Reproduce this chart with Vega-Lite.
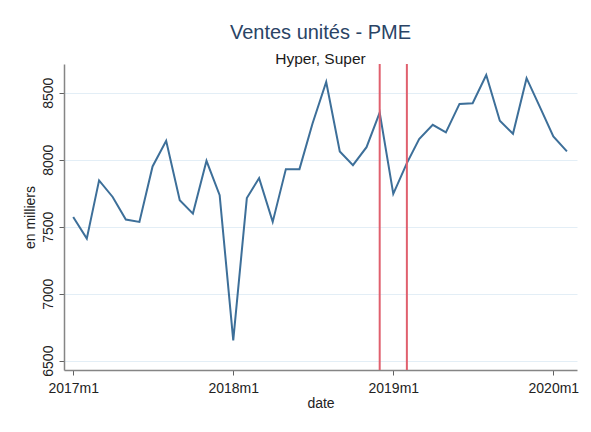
{
  "$schema": "https://vega.github.io/schema/vega-lite/v6.json",
  "width": 513,
  "height": 306,
  "autosize": {"type": "none"},
  "padding": {"left": 64, "top": 64, "right": 14, "bottom": 62},
  "background": "white",
  "config": {"font": "Liberation Sans", "view": {"stroke": null}},
  "title": {
    "text": "Ventes unités - PME",
    "subtitle": "Hyper, Super",
    "fontSize": 20,
    "fontWeight": "normal",
    "color": "#2a4466",
    "subtitleFontSize": 15.5,
    "subtitleColor": "#1a1a1a",
    "anchor": "middle",
    "frame": "group",
    "offset": -4,
    "subtitlePadding": 9
  },
  "layer": [
    {
      "data": {
        "values": [
          {"date": "2017-01-01", "ventes": 7573},
          {"date": "2017-02-01", "ventes": 7411},
          {"date": "2017-03-01", "ventes": 7846},
          {"date": "2017-04-01", "ventes": 7722},
          {"date": "2017-05-01", "ventes": 7553},
          {"date": "2017-06-01", "ventes": 7536},
          {"date": "2017-07-01", "ventes": 7950},
          {"date": "2017-08-01", "ventes": 8142},
          {"date": "2017-09-01", "ventes": 7697},
          {"date": "2017-10-01", "ventes": 7598},
          {"date": "2017-11-01", "ventes": 7992},
          {"date": "2017-12-01", "ventes": 7735},
          {"date": "2018-01-01", "ventes": 6651},
          {"date": "2018-02-01", "ventes": 7714},
          {"date": "2018-03-01", "ventes": 7863},
          {"date": "2018-04-01", "ventes": 7536},
          {"date": "2018-05-01", "ventes": 7930},
          {"date": "2018-06-01", "ventes": 7930},
          {"date": "2018-07-01", "ventes": 8273},
          {"date": "2018-08-01", "ventes": 8581},
          {"date": "2018-09-01", "ventes": 8062},
          {"date": "2018-10-01", "ventes": 7960},
          {"date": "2018-11-01", "ventes": 8094},
          {"date": "2018-12-01", "ventes": 8352},
          {"date": "2019-01-01", "ventes": 7745},
          {"date": "2019-02-01", "ventes": 7975},
          {"date": "2019-03-01", "ventes": 8155},
          {"date": "2019-04-01", "ventes": 8261},
          {"date": "2019-05-01", "ventes": 8204},
          {"date": "2019-06-01", "ventes": 8417},
          {"date": "2019-07-01", "ventes": 8422},
          {"date": "2019-08-01", "ventes": 8633},
          {"date": "2019-09-01", "ventes": 8291},
          {"date": "2019-10-01", "ventes": 8194},
          {"date": "2019-11-01", "ventes": 8609},
          {"date": "2019-12-01", "ventes": 8397},
          {"date": "2020-01-01", "ventes": 8174},
          {"date": "2020-02-01", "ventes": 8062}
        ]
      },
      "mark": {"type": "line", "color": "#3d6f99", "strokeWidth": 2},
      "encoding": {
        "x": {
          "field": "date",
          "type": "temporal",
          "scale": {
            "type": "utc",
            "domain": [
              {"year": 2016, "month": 12, "date": 11, "utc": true},
              {"year": 2020, "month": 2, "date": 24, "utc": true}
            ]
          },
          "axis": {
            "title": "date",
            "values": [
              {"year": 2017, "month": 1, "date": 1, "utc": true},
              {"year": 2018, "month": 1, "date": 1, "utc": true},
              {"year": 2019, "month": 1, "date": 1, "utc": true},
              {"year": 2020, "month": 1, "date": 1, "utc": true}
            ],
            "labelExpr": "utcyear(datum.value) + 'm' + (utcmonth(datum.value) + 1)",
            "grid": false,
            "domainColor": "#858585",
            "domainWidth": 1.5,
            "tickColor": "#606060",
            "tickSize": 5,
            "labelFontSize": 14,
            "labelColor": "#222222",
            "labelPadding": 6,
            "labelFlush": false,
            "labelOverlap": false,
            "titleFontSize": 14,
            "titleFontWeight": "normal",
            "titleColor": "#222222",
            "titleY": 37,
            "titleBaseline": "alphabetic"
          }
        },
        "y": {
          "field": "ventes",
          "type": "quantitative",
          "scale": {"domain": [6430, 8715], "nice": false, "zero": false},
          "axis": {
            "title": "en milliers",
            "values": [6500, 7000, 7500, 8000, 8500],
            "format": "d",
            "grid": true,
            "gridColor": "#e3eef6",
            "gridWidth": 1,
            "domainColor": "#858585",
            "domainWidth": 1.5,
            "tickColor": "#606060",
            "tickSize": 5,
            "labelAngle": -90,
            "labelAlign": "center",
            "labelBaseline": "middle",
            "labelPadding": 11,
            "labelFontSize": 14,
            "labelColor": "#222222",
            "titleFontSize": 14,
            "titleFontWeight": "normal",
            "titleColor": "#222222",
            "titleAngle": -90,
            "titleX": -34,
            "titleY": 153,
            "titleAlign": "center",
            "titleBaseline": "middle"
          }
        }
      }
    },
    {
      "data": {"values": [{"date": "2018-12-01"}, {"date": "2019-02-01"}]},
      "mark": {"type": "rule", "color": "#e0606e", "strokeWidth": 2},
      "encoding": {"x": {"field": "date", "type": "temporal"}}
    }
  ]
}
